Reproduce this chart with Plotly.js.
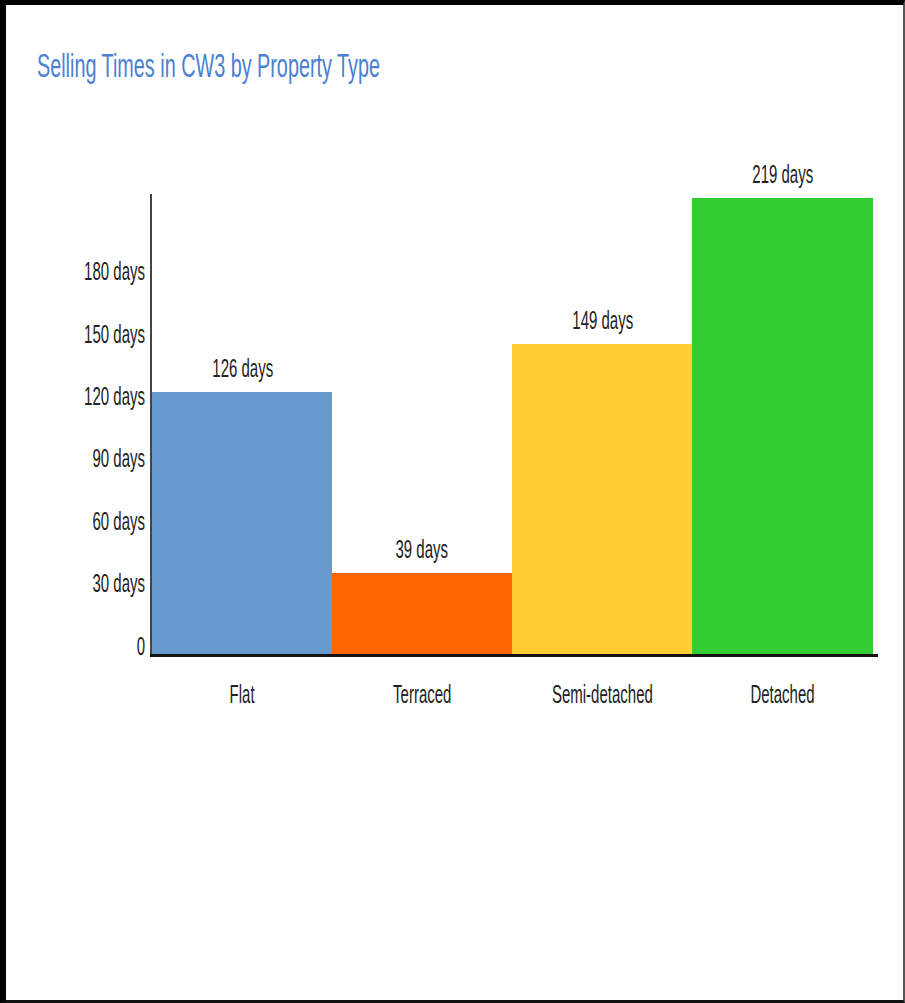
<!DOCTYPE html>
<html>
<head>
<meta charset="utf-8">
<script src="https://cdn.plot.ly/plotly-3.0.1.min.js"></script>
<style>
  html, body { margin: 0; padding: 0; background: #fff; }
  #wrap { position: relative; width: 905px; height: 1003px; overflow: hidden; }
  #chart { position: absolute; left: 0; top: 0; width: 905px; height: 1003px; }
  #frame { position: absolute; left: 0; top: 0; width: 905px; height: 1003px; box-sizing: border-box;
           border-top: 5px solid #000; border-left: 6px solid #000; border-right: 2px solid #555;
           border-bottom: 3px solid #111; pointer-events: none; }
</style>
</head>
<body>
<div id="wrap">
  <div id="chart"></div>
  <div id="frame"></div>
</div>
<script>
const chartTitle = "Selling Times in CW3 by Property Type";
const categories = ["Flat", "Terraced", "Semi-detached", "Detached"];
const sellingDays = [126, 39, 149, 219];
const barLabels = ["126 days", "39 days", "149 days", "219 days"];
const barColors = ["#6699cc", "#ff6600", "#ffcc33", "#33cc33"];
const tickValues = [0, 30, 60, 90, 120, 150, 180];
const tickLabels = ["0", "30 days", "60 days", "90 days", "120 days", "150 days", "180 days"];

const FONT = "'Liberation Sans', Arial, sans-serif";
const SQUEEZE = 0.6; // the reference lettering is tall and condensed

const trace = {
  type: "bar",
  x: categories,
  y: sellingDays,
  marker: { color: barColors, line: { width: 0 } },
  width: 1,
  hoverinfo: "x+y",
  showlegend: false
};

const annotations = categories.map((c, i) => ({
  x: c, y: sellingDays[i], xref: "x", yref: "y",
  text: barLabels[i], showarrow: false,
  xanchor: "center", yanchor: "middle", yshift: 24,
  font: { family: FONT, size: 25, color: "#222" }
}));

const layout = {
  width: 905, height: 1003,
  paper_bgcolor: "#fff", plot_bgcolor: "#fff",
  margin: { l: 152, r: 27, t: 194, b: 349, pad: 0 },
  title: {
    text: chartTitle,
    font: { family: FONT, size: 33, color: "#4c80d2" },
    xref: "container", yref: "container",
    x: 37 / 905, xanchor: "left",
    y: 1 - 65 / 1003, yanchor: "middle"
  },
  xaxis: {
    type: "category",
    range: [-0.5, 3.53],
    showgrid: false, zeroline: false,
    showline: true, linecolor: "#111", linewidth: 3,
    ticks: "", ticklabelstandoff: 16,
    tickfont: { family: FONT, size: 25, color: "#222" },
    fixedrange: true
  },
  yaxis: {
    range: [0, 221],
    showgrid: false, zeroline: false,
    showline: true, linecolor: "#444", linewidth: 2,
    ticks: "",
    tickmode: "array", tickvals: tickValues, ticktext: tickLabels,
    ticklabelshift: -8, ticklabelstandoff: 0,
    tickfont: { family: FONT, size: 25, color: "#222" },
    fixedrange: true
  },
  bargap: 0,
  annotations: annotations
};

Plotly.newPlot("chart", [trace], layout, { displayModeBar: false, staticPlot: true }).then(gd => {
  gd.querySelectorAll("svg text").forEach(t => {
    if (!t.textContent.trim()) return;
    const w = t.getComputedTextLength();
    if (w > 0) {
      t.setAttribute("textLength", (w * SQUEEZE).toFixed(2));
      t.setAttribute("lengthAdjust", "spacingAndGlyphs");
    }
  });
});
</script>
</body>
</html>
